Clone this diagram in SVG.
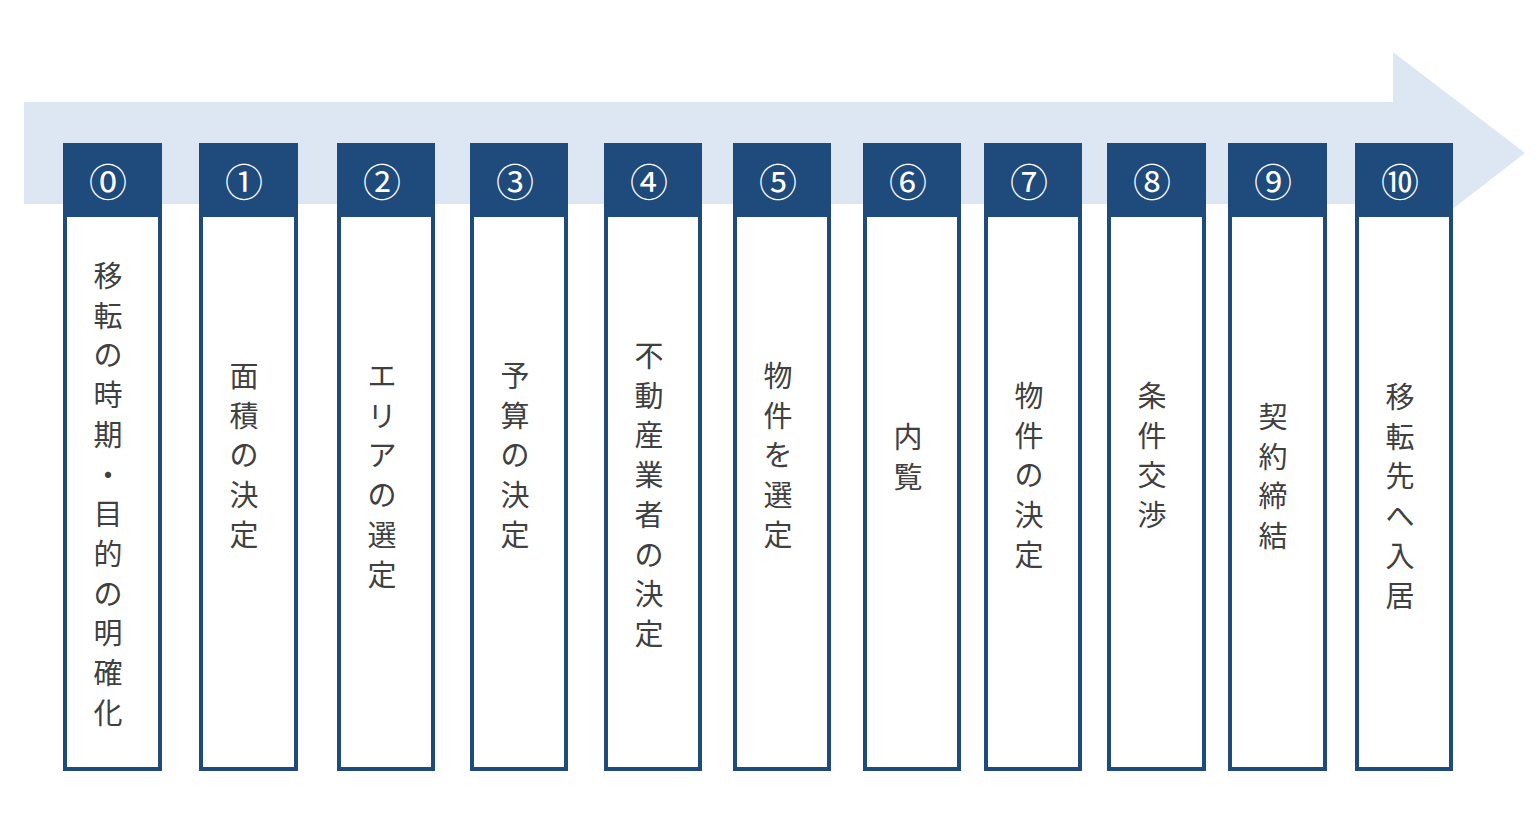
<svg xmlns="http://www.w3.org/2000/svg" width="1536" height="814" viewBox="0 0 1536 814">
<style>
.body{fill:#ffffff;stroke:#1f4a7c;stroke-width:4}
.head{fill:#1f4a7c}
.num{font-family:"Noto Sans CJK JP","DejaVu Sans",sans-serif;font-size:38px;fill:#ffffff;text-anchor:middle;dominant-baseline:central}
.lbl{font-family:"Noto Sans CJK JP",sans-serif;font-size:29px;fill:#404040;text-anchor:middle;dominant-baseline:central}
</style>
<rect width="1536" height="814" fill="#ffffff"/>
<g id="connectors">
<polygon points="24,102 1393,102 1393,52 1525,153 1393,255 1393,204 24,204" fill="#dde7f4"/>
</g>
<g id="step0">
<rect class="body" x="65" y="145" width="95" height="624"/>
<rect class="head" x="63" y="143" width="99" height="74" rx="2"/>
<text class="num" x="108" y="179">⓪</text>
<text class="lbl"><tspan x="108" y="274">移</tspan><tspan x="108" y="313.7">転</tspan><tspan x="108" y="353.4">の</tspan><tspan x="108" y="393.1">時</tspan><tspan x="108" y="432.8">期</tspan><tspan x="108" y="472.5">・</tspan><tspan x="108" y="512.2">目</tspan><tspan x="108" y="551.9">的</tspan><tspan x="108" y="591.6">の</tspan><tspan x="108" y="631.3">明</tspan><tspan x="108" y="671">確</tspan><tspan x="108" y="710.7">化</tspan></text>
</g>
<g id="step1">
<rect class="body" x="201" y="145" width="95" height="624"/>
<rect class="head" x="199" y="143" width="99" height="74" rx="2"/>
<text class="num" x="244" y="179">①</text>
<text class="lbl"><tspan x="244" y="374">面</tspan><tspan x="244" y="413.7">積</tspan><tspan x="244" y="453.4">の</tspan><tspan x="244" y="493.1">決</tspan><tspan x="244" y="532.8">定</tspan></text>
</g>
<g id="step2">
<rect class="body" x="339" y="145" width="94" height="624"/>
<rect class="head" x="337" y="143" width="98" height="74" rx="2"/>
<text class="num" x="382" y="179">②</text>
<text class="lbl"><tspan x="382" y="374">エ</tspan><tspan x="382" y="413.7">リ</tspan><tspan x="382" y="453.4">ア</tspan><tspan x="382" y="493.1">の</tspan><tspan x="382" y="532.8">選</tspan><tspan x="382" y="572.5">定</tspan></text>
</g>
<g id="step3">
<rect class="body" x="472" y="145" width="94" height="624"/>
<rect class="head" x="470" y="143" width="98" height="74" rx="2"/>
<text class="num" x="515" y="179">③</text>
<text class="lbl"><tspan x="515" y="374">予</tspan><tspan x="515" y="413.7">算</tspan><tspan x="515" y="453.4">の</tspan><tspan x="515" y="493.1">決</tspan><tspan x="515" y="532.8">定</tspan></text>
</g>
<g id="step4">
<rect class="body" x="606" y="145" width="94" height="624"/>
<rect class="head" x="604" y="143" width="98" height="74" rx="2"/>
<text class="num" x="649" y="179">④</text>
<text class="lbl"><tspan x="649" y="354">不</tspan><tspan x="649" y="393.7">動</tspan><tspan x="649" y="433.4">産</tspan><tspan x="649" y="473.1">業</tspan><tspan x="649" y="512.8">者</tspan><tspan x="649" y="552.5">の</tspan><tspan x="649" y="592.2">決</tspan><tspan x="649" y="631.9">定</tspan></text>
</g>
<g id="step5">
<rect class="body" x="735" y="145" width="94" height="624"/>
<rect class="head" x="733" y="143" width="98" height="74" rx="2"/>
<text class="num" x="778" y="179">⑤</text>
<text class="lbl"><tspan x="778" y="374">物</tspan><tspan x="778" y="413.7">件</tspan><tspan x="778" y="453.4">を</tspan><tspan x="778" y="493.1">選</tspan><tspan x="778" y="532.8">定</tspan></text>
</g>
<g id="step6">
<rect class="body" x="865" y="145" width="94" height="624"/>
<rect class="head" x="863" y="143" width="98" height="74" rx="2"/>
<text class="num" x="908" y="179">⑥</text>
<text class="lbl"><tspan x="908" y="435">内</tspan><tspan x="908" y="474.7">覧</tspan></text>
</g>
<g id="step7">
<rect class="body" x="986" y="145" width="94" height="624"/>
<rect class="head" x="984" y="143" width="98" height="74" rx="2"/>
<text class="num" x="1029" y="179">⑦</text>
<text class="lbl"><tspan x="1029" y="394">物</tspan><tspan x="1029" y="433.7">件</tspan><tspan x="1029" y="473.4">の</tspan><tspan x="1029" y="513.1">決</tspan><tspan x="1029" y="552.8">定</tspan></text>
</g>
<g id="step8">
<rect class="body" x="1109" y="145" width="95" height="624"/>
<rect class="head" x="1107" y="143" width="99" height="74" rx="2"/>
<text class="num" x="1152" y="179">⑧</text>
<text class="lbl"><tspan x="1152" y="394">条</tspan><tspan x="1152" y="433.7">件</tspan><tspan x="1152" y="473.4">交</tspan><tspan x="1152" y="513.1">渉</tspan></text>
</g>
<g id="step9">
<rect class="body" x="1230" y="145" width="95" height="624"/>
<rect class="head" x="1228" y="143" width="99" height="74" rx="2"/>
<text class="num" x="1273" y="179">⑨</text>
<text class="lbl"><tspan x="1273" y="415">契</tspan><tspan x="1273" y="454.7">約</tspan><tspan x="1273" y="494.4">締</tspan><tspan x="1273" y="534.1">結</tspan></text>
</g>
<g id="step10">
<rect class="body" x="1357" y="145" width="94" height="624"/>
<rect class="head" x="1355" y="143" width="98" height="74" rx="2"/>
<text class="num" x="1400" y="179">⑩</text>
<text class="lbl"><tspan x="1400" y="395">移</tspan><tspan x="1400" y="434.7">転</tspan><tspan x="1400" y="474.4">先</tspan><tspan x="1400" y="514.1">へ</tspan><tspan x="1400" y="553.8">入</tspan><tspan x="1400" y="593.5">居</tspan></text>
</g>
</svg>
